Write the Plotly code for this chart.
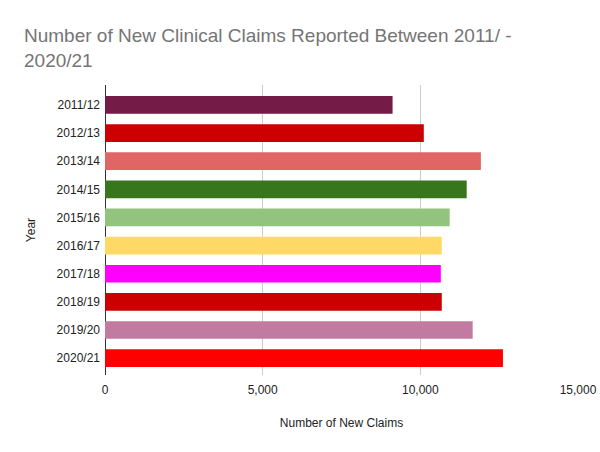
import plotly.graph_objects as go

years = ["2011/12", "2012/13", "2013/14", "2014/15", "2015/16",
         "2016/17", "2017/18", "2018/19", "2019/20", "2020/21"]
claims = [9120, 10110, 11920, 11470, 10930, 10680, 10650, 10680, 11660, 12620]
colors = ["#741B47", "#CC0000", "#E06666", "#38761D", "#93C47D",
          "#FFD966", "#FF00FF", "#CC0000", "#C27BA0", "#FF0000"]
x_ticks = [0, 5000, 10000, 15000]
x_tick_labels = ["0", "5,000", "10,000", "15,000"]

fig = go.Figure(go.Bar(
    y=years, x=claims, orientation="h",
    marker=dict(color=colors, line=dict(width=0)),
    hoverinfo="x+y",
))

fig.update_layout(
    width=600, height=452,
    paper_bgcolor="white", plot_bgcolor="white",
    margin=dict(l=105, r=22, t=85, b=77, autoexpand=False),
    bargap=0.37,
    showlegend=False,
    font=dict(family="Liberation Sans, Arial, sans-serif", color="#222222", size=12),
    title=dict(
        text="Number of New Clinical Claims Reported Between 2011/ -<br>2020/21",
        font=dict(size=19, color="#757575", family="Liberation Sans, Arial, sans-serif"),
        x=24/600, xref="container", xanchor="left",
        y=1 - 42/452, yref="container", yanchor="top",
        pad=dict(l=0, r=0, t=0, b=0),
    ),
    xaxis=dict(
        range=[0, 15000], tickvals=x_ticks, ticktext=x_tick_labels,
        showgrid=True, gridcolor="#CCCCCC", gridwidth=1,
        zeroline=True, zerolinecolor="#333333", zerolinewidth=1,
        showline=False, ticks="", automargin=False,
        ticklabelstandoff=6,
        tickfont=dict(size=12, color="#222222"),
        title=dict(text="Number of New Claims", font=dict(size=12, color="#222222"), standoff=22),
        fixedrange=True,
    ),
    yaxis=dict(
        categoryorder="array", categoryarray=years,
        range=[9.6, -0.71],
        showgrid=False, showline=False, zeroline=False, ticks="",
        ticklabelstandoff=4, automargin=False,
        tickfont=dict(size=12, color="#222222"),
        title=dict(text="Year", font=dict(size=12, color="#222222"), standoff=18),
        fixedrange=True,
    ),
)

fig.write_html("out.html", config={"displayModeBar": False},
               post_script="document.body.style.margin='0';document.body.style.padding='0';")
